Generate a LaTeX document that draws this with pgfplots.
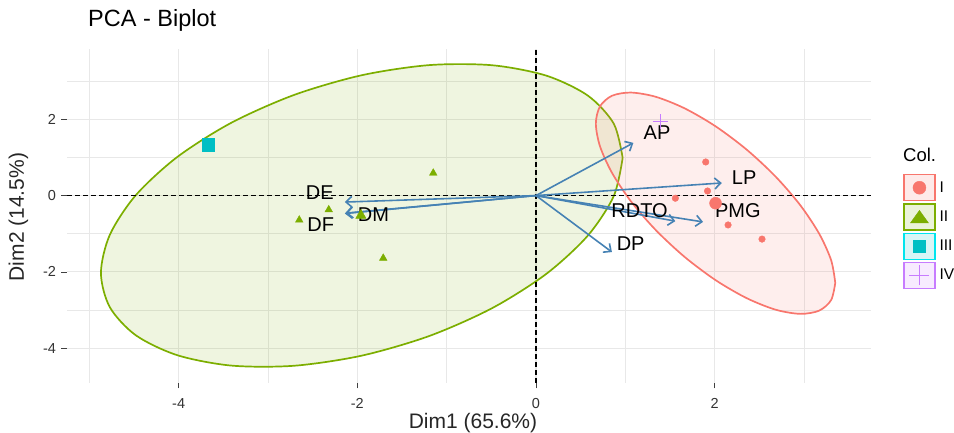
\documentclass[border=0pt]{standalone}
\usepackage{pgfplots}
\pgfplotsset{compat=1.18}
\usepackage{fontspec}
\setmainfont{Liberation Sans}
\usetikzlibrary{arrows.meta}
\definecolor{cI}{HTML}{F8766D}
\definecolor{cII}{HTML}{7CAE00}
\definecolor{cIII}{HTML}{00BFC4}
\definecolor{cIIIb}{HTML}{00E5EE}
\definecolor{cIV}{HTML}{C77CFF}
\definecolor{arr}{HTML}{4682B4}
\definecolor{grd}{HTML}{E8E8E8}
\begin{document}
\begin{tikzpicture}[x=1pt,y=1pt]
\useasboundingbox (0,0) rectangle (954,433);
\begin{axis}[
  at={(67pt,50pt)}, anchor=south west,
  width=804pt, height=334pt, scale only axis,
  xmin=-5.25, xmax=3.75, ymin=-4.91, ymax=3.84,
  axis line style={draw=none},
  xtick={-4,-2,0,2}, ytick={-4,-2,0,2},
  minor xtick={-5,-3,-1,1,3}, minor ytick={-3,-1,1,3},
  grid=both,
  major grid style={draw=grd, line width=1.1pt},
  minor grid style={draw=grd, line width=0.6pt},
  xtick pos=left, ytick pos=left,
  tick align=outside, major tick length=5.5pt, minor tick length=0pt,
  tick style={draw=black!75, line width=0.8pt},
  /pgf/number format/assume math mode=true,
  tick label style={font=\fontsize{14.5}{17}\selectfont, text=black!80},
  xticklabel style={yshift=-6pt},
  yticklabel style={xshift=-2pt},
  legend style={at={(axis description cs:1.04,0.626)}, anchor=north west,
    draw=none, fill=none, inner sep=0pt, row sep=2pt, column sep=4pt,
    font=\fontsize{15.5}{18}\selectfont, cells={anchor=west},
    nodes={inner sep=0pt}},
  clip=true,
]
% ellipses
\addplot[draw=cII, fill=cII, fill opacity=0.12, line width=1.7pt, smooth, forget plot] coordinates {
(0.970,0.987) (0.870,-0.015) (0.579,-1.052) (0.115,-2.052) (-0.490,-2.948)
(-1.194,-3.678) (-1.950,-4.193) (-2.706,-4.458) (-3.410,-4.454) (-4.015,-4.182)
(-4.479,-3.661) (-4.770,-2.926) (-4.870,-2.027) (-4.770,-1.025) (-4.479,0.012)
(-4.015,1.012) (-3.410,1.908) (-2.706,2.638) (-1.950,3.153) (-1.194,3.418)
(-0.490,3.414) (0.115,3.142) (0.579,2.621) (0.870,1.886) (0.970,0.987)} -- cycle;
\addplot[draw=cI, fill=cI, fill opacity=0.12, line width=1.7pt, smooth, forget plot] coordinates {
(3.350,-2.286) (3.304,-2.736) (3.170,-3.014) (2.958,-3.099) (2.680,-2.988)
(2.357,-2.686) (2.010,-2.215) (1.663,-1.606) (1.340,-0.902) (1.062,-0.149)
(0.850,0.599) (0.716,1.294) (0.670,1.886) (0.716,2.336) (0.850,2.614)
(1.062,2.699) (1.340,2.588) (1.663,2.286) (2.010,1.815) (2.357,1.206)
(2.680,0.502) (2.958,-0.251) (3.170,-0.999) (3.304,-1.694) (3.350,-2.286)} -- cycle;
% reference lines
\addplot[black, line width=1.7pt, dash pattern=on 4.5pt off 3.5pt, forget plot] coordinates {(0,-4.91) (0,3.84)};
\addplot[black, line width=1.7pt, dash pattern=on 4.5pt off 3.5pt, forget plot] coordinates {(-5.25,0) (3.75,0)};
% individuals
\addplot[only marks, mark=*, mark size=3.3pt, color=cI, forget plot] coordinates {
(1.90,0.88) (1.92,0.12) (1.56,-0.07) (2.15,-0.77) (2.53,-1.14)};
\addplot[only marks, mark=*, mark size=6pt, color=cI, forget plot] coordinates {(2.01,-0.20)};
\addplot[only marks, mark=triangle*, mark size=4.4pt, color=cII, forget plot] coordinates {
(-1.15,0.59) (-2.32,-0.37) (-2.65,-0.64) (-1.71,-1.64)};
\addplot[only marks, mark=triangle*, mark size=6pt, color=cII, forget plot] coordinates {(-1.96,-0.52)};
\addplot[only marks, mark=square*, mark size=6.3pt, color=cIII, forget plot] coordinates {(-3.67,1.33)};
\addplot[only marks, mark=+, mark size=7.5pt, color=cIV, line width=1pt, forget plot] coordinates {(1.39,1.93)};
% variables
\addplot[arr, line width=1.6pt, -{Straight Barb[length=6pt,width=11pt]}, forget plot] coordinates {(0,0) (1.09,1.38)};
\addplot[arr, line width=1.6pt, -{Straight Barb[length=6pt,width=11pt]}, forget plot] coordinates {(0,0) (2.08,0.33)};
\addplot[arr, line width=1.6pt, -{Straight Barb[length=6pt,width=11pt]}, forget plot] coordinates {(0,0) (1.56,-0.67)};
\addplot[arr, line width=1.6pt, -{Straight Barb[length=6pt,width=11pt]}, forget plot] coordinates {(0,0) (1.87,-0.69)};
\addplot[arr, line width=1.6pt, -{Straight Barb[length=6pt,width=11pt]}, forget plot] coordinates {(0,0) (0.85,-1.48)};
\addplot[arr, line width=1.6pt, -{Straight Barb[length=6pt,width=11pt]}, forget plot] coordinates {(0,0) (-2.14,-0.17)};
\addplot[arr, line width=1.6pt, -{Straight Barb[length=6pt,width=11pt]}, forget plot] coordinates {(0,0) (-2.13,-0.46)};
\addplot[arr, line width=1.6pt, -{Straight Barb[length=6pt,width=11pt]}, forget plot] coordinates {(0,0) (-2.14,-0.47)};
\begin{scope}[every node/.style={font=\fontsize{20}{24}\selectfont, inner sep=0pt}]
\node at (axis cs:1.355,1.65) {AP};
\node at (axis cs:2.33,0.46) {LP};
\node at (axis cs:1.16,-0.39) {RDTO};
\node at (axis cs:2.26,-0.39) {PMG};
\node at (axis cs:1.06,-1.27) {DP};
\node at (axis cs:-2.42,0.09) {DE};
\node at (axis cs:-2.41,-0.77) {DF};
\node at (axis cs:-1.82,-0.50) {DM};
\end{scope}
% legend
\addlegendimage{legend image code/.code={
  \draw[draw=cI, fill=cI!15, line width=1.2pt] (0pt,-13pt) rectangle (31pt,13pt);
  \fill[cI] (15.5pt,0pt) circle (6.5pt);}}
\addlegendentry{I}
\addlegendimage{legend image code/.code={
  \draw[draw=cII, fill=cII!15, line width=1.2pt] (0pt,-13pt) rectangle (31pt,13pt);
  \fill[cII] (15.5pt,6.5pt) -- (6.5pt,-6pt) -- (24.5pt,-6pt) -- cycle;}}
\addlegendentry{II}
\addlegendimage{legend image code/.code={
  \draw[draw=cIIIb, fill=cIII!15, line width=1.2pt] (0pt,-13pt) rectangle (31pt,13pt);
  \fill[cIII] (9.5pt,-6pt) rectangle (21.5pt,6pt);}}
\addlegendentry{III}
\addlegendimage{legend image code/.code={
  \draw[draw=cIV, fill=cIV!15, line width=1.2pt] (0pt,-13pt) rectangle (31pt,13pt);
  \draw[cIV, line width=1pt] (5.5pt,0pt) -- (25.5pt,0pt) (15.5pt,-10pt) -- (15.5pt,10pt);}}
\addlegendentry{IV}
\end{axis}
\node[anchor=base west, font=\fontsize{23.5}{28}\selectfont, inner sep=0pt] at (88,406) {PCA - Biplot};
\node[anchor=base, font=\fontsize{21}{25}\selectfont, inner sep=0pt, text=black!85] at (473,4) {Dim1 (65.6\%)};
\node[anchor=base, rotate=90, font=\fontsize{21}{25}\selectfont, inner sep=0pt, text=black!85] at (24,216) {Dim2 (14.5\%)};
\node[anchor=base west, font=\fontsize{18.5}{22}\selectfont, inner sep=0pt] at (903,271) {Col.};
\end{tikzpicture}
\end{document}
